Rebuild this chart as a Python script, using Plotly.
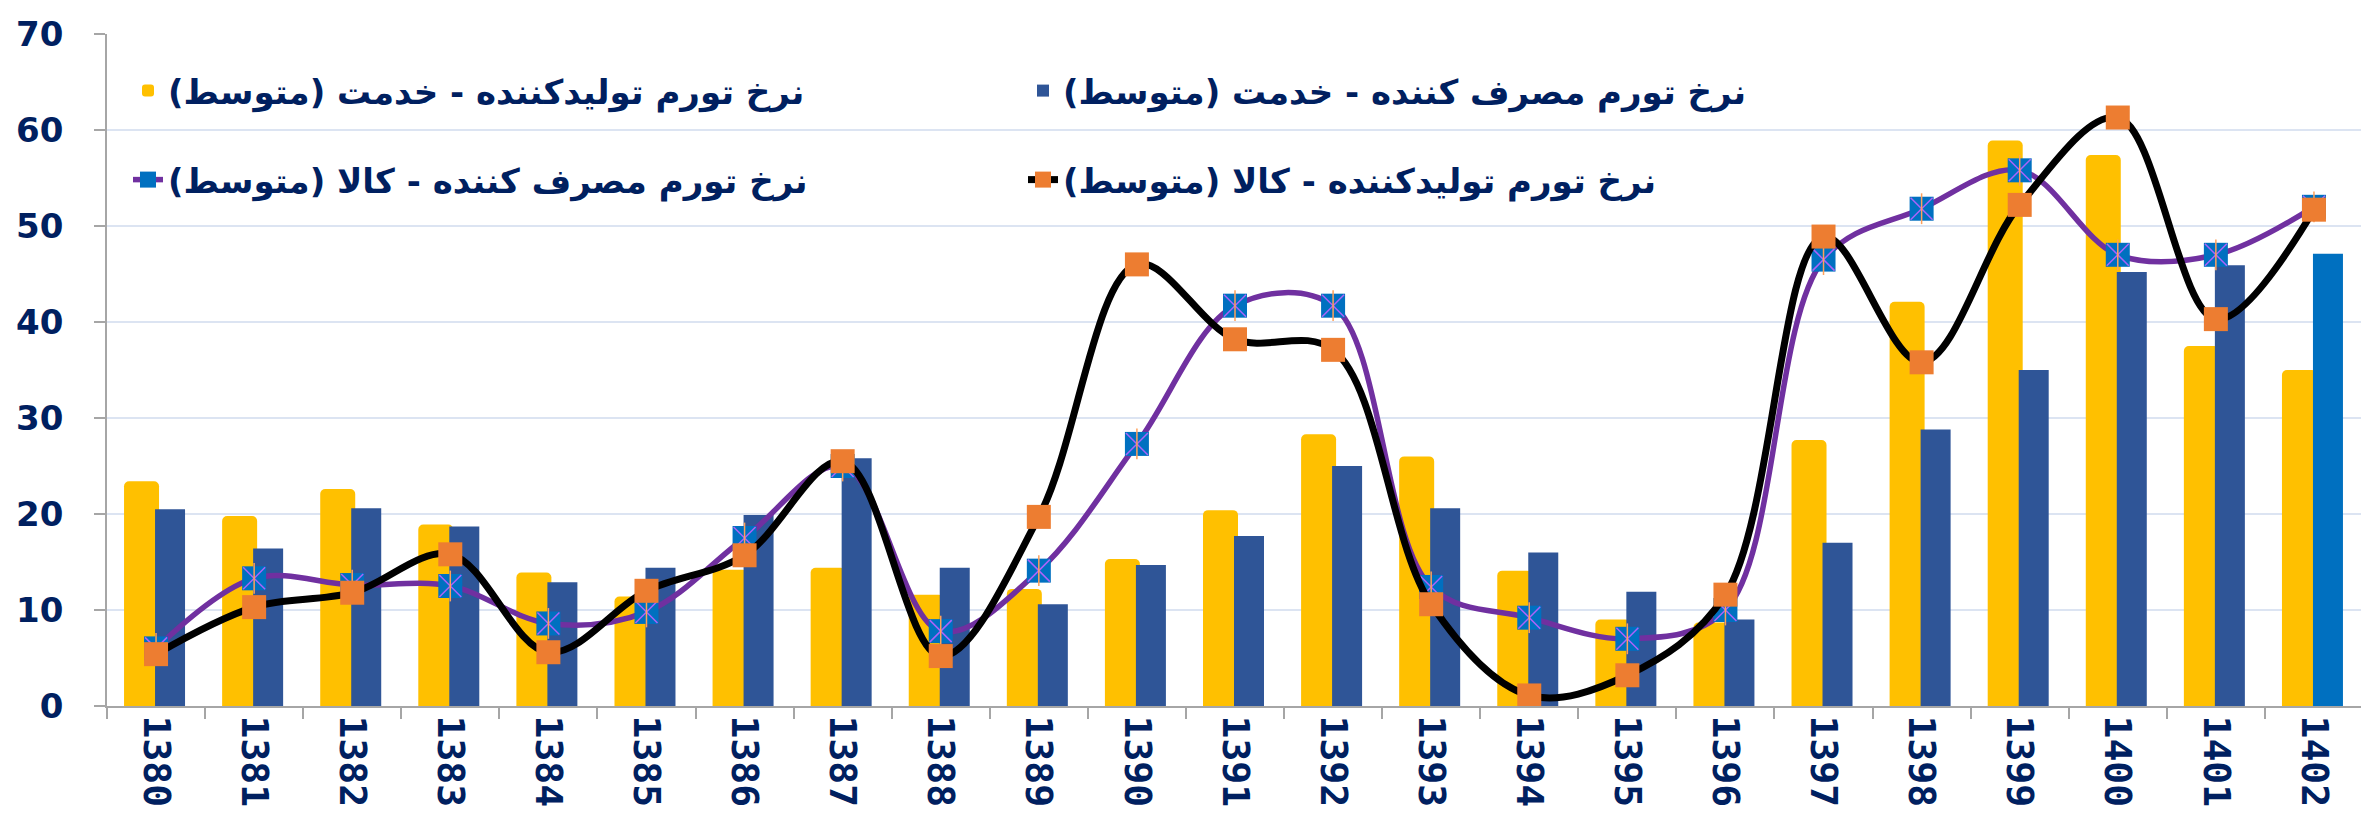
import plotly.graph_objects as go

years = ['1380', '1381', '1382', '1383', '1384', '1385', '1386', '1387', '1388', '1389', '1390',
         '1391', '1392', '1393', '1394', '1395', '1396', '1397', '1398', '1399', '1400', '1401', '1402']

producer_services = [23.4, 19.8, 22.6, 18.9, 13.9, 11.4, 14.2, 14.4, 11.6, 12.2, 15.3,
                     20.4, 28.3, 26.0, 14.1, 9.0, 8.7, 27.7, 42.1, 58.9, 57.4, 37.5, 35.0]
consumer_services = [20.5, 16.4, 20.6, 18.7, 12.9, 14.4, 19.9, 25.8, 14.4, 10.6, 14.7,
                     17.7, 25.0, 20.6, 16.0, 11.9, 9.0, 17.0, 28.8, 35.0, 45.2, 45.9, 47.1]
consumer_goods = [6.0, 13.3, 12.6, 12.5, 8.6, 9.8, 17.5, 25.0, 7.8, 14.1, 27.3,
                  41.7, 41.7, 12.4, 9.2, 7.0, 10.0, 46.5, 51.8, 55.8, 47.0, 47.0, 52.0]
producer_goods = [5.4, 10.3, 11.8, 15.8, 5.6, 12.0, 15.7, 25.5, 5.2, 19.7, 46.0,
                  38.2, 37.1, 10.6, 1.1, 3.2, 11.6, 48.9, 35.8, 52.2, 61.3, 40.3, 51.7]

name_ps = "\u200fنرخ تورم تولیدکننده - خدمت (متوسط)\u200f"
name_cs = "\u200fنرخ تورم مصرف کننده - خدمت (متوسط)\u200f"
name_cg = "\u200fنرخ تورم مصرف کننده - کالا (متوسط)\u200f"
name_pg = "\u200fنرخ تورم تولیدکننده - کالا (متوسط)\u200f"

W, H = 2369, 822
L, R, T, B = 99, 14, 26, 124
PW, PH = W - L - R, H - T - B
cat_px = PW / len(years)

blue_colors = ['#2F5597'] * (len(years) - 1) + ['#0070C0']

fig = go.Figure()
fig.add_trace(go.Bar(
    x=years, y=producer_services, name=name_ps, legend='legend',
    marker=dict(color='#FFC000', cornerradius=5, line=dict(width=0)),
    width=35 / cat_px, offset=-32 / cat_px,
))
fig.add_trace(go.Bar(
    x=years, y=consumer_services, name=name_cs, legend='legend',
    marker=dict(color=blue_colors, line=dict(width=0)),
    width=30 / cat_px, offset=-1 / cat_px,
))
fig.add_trace(go.Scatter(
    x=years, y=consumer_goods, name=name_cg, legend='legend2', mode='lines+markers',
    line=dict(color='#7030A0', width=5.5, shape='spline', smoothing=1.0),
    marker=dict(symbol='square', size=24, color='#0070C0', line=dict(width=0)),
))
fig.add_trace(go.Scatter(
    x=years, y=consumer_goods, mode='markers', showlegend=False, hoverinfo='skip',
    marker=dict(symbol='x-thin-open', size=22, line=dict(color='#A6A6A6', width=1.5)),
))
fig.add_trace(go.Scatter(
    x=years, y=consumer_goods, mode='markers', showlegend=False, hoverinfo='skip',
    marker=dict(symbol='line-ns-open', size=22, line=dict(color='#A6A6A6', width=1.5)),
))
fig.add_trace(go.Scatter(
    x=years, y=producer_goods, name=name_pg, legend='legend2', mode='lines+markers',
    line=dict(color='#000000', width=7, shape='spline', smoothing=1.0),
    marker=dict(symbol='square', size=24, color='#ED7D31', line=dict(width=0)),
))

legend_font = dict(family='DejaVu Sans', size=34, color='#002060', weight='bold')
common_leg = dict(orientation='h', xref='paper', yref='paper', xanchor='left', yanchor='middle',
                  entrywidth=850, entrywidthmode='pixels', font=legend_font,
                  bgcolor='rgba(0,0,0,0)', itemsizing='trace', traceorder='normal')
fig.update_layout(
    width=W, height=H,
    margin=dict(l=L, r=R, t=T, b=B, autoexpand=False),
    paper_bgcolor='white', plot_bgcolor='white',
    barmode='overlay',
    showlegend=True,
    legend=dict(common_leg, x=(120 - L) / PW, y=(698 - 83) / PH),
    legend2=dict(common_leg, x=(120 - L) / PW, y=(698 - 172) / PH),
    xaxis=dict(
        type='category', range=[-0.5, len(years) - 0.5],
        showline=True, linecolor='#A6A6A6', linewidth=2,
        ticks='outside', tickson='boundaries', ticklen=11, tickcolor='#A6A6A6', tickwidth=2,
        tickangle=90, tickfont=dict(family='DejaVu Sans Mono', size=38, color='#002060', weight='bold'),
        showgrid=False,
    ),
    yaxis=dict(
        range=[0, 70], dtick=10, tick0=0,
        showline=True, linecolor='#A6A6A6', linewidth=1.5,
        ticks='outside', ticklen=11, tickcolor='#A6A6A6', tickwidth=2,
        gridcolor='#DCE4F2', gridwidth=2, zeroline=False,
        tickfont=dict(family='DejaVu Sans', size=34, color='#002060', weight='bold'),
        ticklabelstandoff=24,
    ),
)

fig.write_html('out.html')
